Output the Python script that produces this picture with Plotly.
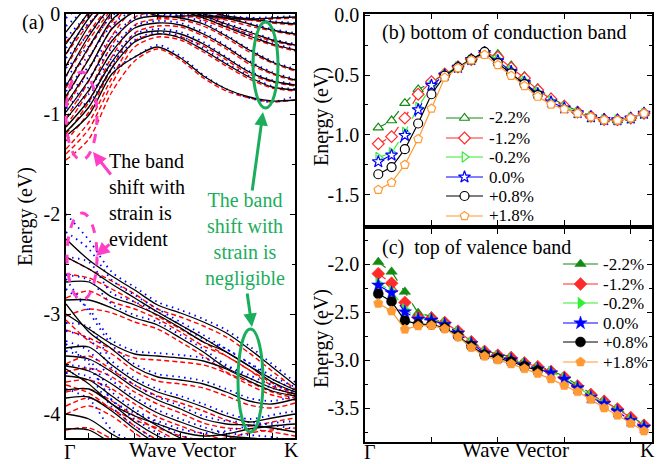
import plotly.graph_objects as go

# ---------------- data ----------------
# panel (a): band energies (eV) at 11 k-points from Gamma (0) to K (10)
KA = [0, 1, 2, 3, 4, 5, 6, 7, 8, 9, 10]

CB_BLACK = [
    [-1.22, -1.01, -0.60, -0.43, -0.33, -0.44, -0.62, -0.75, -0.83, -0.87, -0.86],
    [-1.18, -0.93, -0.54, -0.28, -0.20, -0.24, -0.36, -0.50, -0.63, -0.73, -0.76],
    [-1.13, -0.86, -0.48, -0.22, -0.17, -0.20, -0.30, -0.44, -0.58, -0.67, -0.71],
    [-1.05, -0.76, -0.38, -0.14, -0.09, -0.11, -0.20, -0.33, -0.48, -0.59, -0.66],
    [-0.98, -0.66, -0.27, -0.06, -0.02, -0.04, -0.10, -0.22, -0.36, -0.48, -0.56],
    [-0.90, -0.55, -0.15, 0.02, 0.05, 0.03, -0.04, -0.13, -0.22, -0.30, -0.36],
    [-0.82, -0.45, -0.06, 0.10, 0.10, 0.05, -0.02, -0.10, -0.18, -0.26, -0.31],
    [-0.72, -0.33, 0.02, 0.20, 0.20, 0.10, 0.00, -0.04, -0.10, -0.16, -0.20],
    [-0.62, -0.22, 0.08, 0.20, 0.20, 0.15, 0.05, -0.02, -0.05, -0.08, -0.10],
    [-0.52, -0.12, 0.15, 0.30, 0.30, 0.30, 0.30, 0.30, 0.30, 0.30, 0.30],
    [-0.40, -0.04, 0.20, 0.30, 0.30, 0.30, 0.30, 0.30, 0.30, 0.30, 0.30],
    [-0.30, 0.02, 0.30, 0.30, 0.30, 0.30, 0.30, 0.30, 0.30, 0.30, 0.30],
    [-0.18, 0.10, 0.30, 0.30, 0.30, 0.30, 0.30, 0.30, 0.30, 0.30, 0.30],
    [0.20, 0.20, 0.20, 0.10, -0.02, -0.02, -0.02, -0.04, -0.05, -0.04, -0.03],
]
CB_RED = [
    [-1.46, -1.25, -0.78, -0.47, -0.35, -0.46, -0.64, -0.77, -0.84, -0.88, -0.86],
    [-1.40, -1.15, -0.70, -0.33, -0.23, -0.26, -0.38, -0.52, -0.65, -0.74, -0.77],
    [-1.35, -1.08, -0.64, -0.27, -0.20, -0.23, -0.32, -0.46, -0.60, -0.68, -0.72],
    [-1.27, -0.98, -0.54, -0.19, -0.12, -0.13, -0.22, -0.35, -0.50, -0.60, -0.67],
    [-1.20, -0.88, -0.43, -0.11, -0.05, -0.06, -0.12, -0.24, -0.38, -0.49, -0.57],
    [-1.12, -0.77, -0.31, -0.03, 0.02, 0.01, -0.06, -0.15, -0.24, -0.31, -0.37],
    [-1.04, -0.67, -0.22, 0.05, 0.08, 0.04, -0.04, -0.12, -0.20, -0.27, -0.32],
    [-0.94, -0.55, -0.14, 0.15, 0.20, 0.10, -0.02, -0.06, -0.12, -0.17, -0.21],
    [-0.84, -0.44, -0.08, 0.15, 0.20, 0.15, 0.04, -0.03, -0.06, -0.09, -0.11],
    [-0.74, -0.34, 0.00, 0.30, 0.30, 0.30, 0.30, 0.30, 0.30, 0.30, 0.30],
    [-0.62, -0.26, 0.05, 0.30, 0.30, 0.30, 0.30, 0.30, 0.30, 0.30, 0.30],
    [-0.52, -0.18, 0.10, 0.30, 0.30, 0.30, 0.30, 0.30, 0.30, 0.30, 0.30],
    [-0.40, -0.10, 0.15, 0.30, 0.30, 0.30, 0.30, 0.30, 0.30, 0.30, 0.30],
    [-0.28, -0.02, 0.20, 0.30, 0.30, 0.30, 0.30, 0.30, 0.30, 0.30, 0.30],
    [0.20, 0.20, 0.20, 0.10, -0.03, -0.03, -0.03, -0.05, -0.06, -0.05, -0.04],
]
CB_BLUE = [
    [-0.94, -0.88, -0.56, -0.43, -0.31, -0.42, -0.61, -0.75, -0.84, -0.88, -0.82],
    [-0.90, -0.80, -0.50, -0.26, -0.18, -0.22, -0.34, -0.49, -0.62, -0.72, -0.75],
    [-0.85, -0.73, -0.44, -0.20, -0.15, -0.18, -0.28, -0.43, -0.57, -0.66, -0.70],
    [-0.77, -0.63, -0.34, -0.12, -0.07, -0.09, -0.18, -0.32, -0.47, -0.58, -0.65],
    [-0.70, -0.53, -0.23, -0.04, 0.00, -0.02, -0.08, -0.21, -0.35, -0.47, -0.55],
    [-0.62, -0.42, -0.11, 0.04, 0.07, 0.05, -0.02, -0.11, -0.21, -0.29, -0.35],
    [-0.54, -0.32, -0.02, 0.10, 0.10, 0.06, -0.01, -0.09, -0.17, -0.25, -0.30],
    [-0.44, -0.20, 0.06, 0.20, 0.20, 0.10, 0.00, -0.03, -0.09, -0.15, -0.19],
    [-0.34, -0.09, 0.12, 0.20, 0.20, 0.15, 0.05, -0.01, -0.04, -0.07, -0.09],
    [-0.24, 0.00, 0.20, 0.30, 0.30, 0.30, 0.30, 0.30, 0.30, 0.30, 0.30],
    [-0.12, 0.08, 0.30, 0.30, 0.30, 0.30, 0.30, 0.30, 0.30, 0.30, 0.30],
    [-0.04, 0.15, 0.30, 0.30, 0.30, 0.30, 0.30, 0.30, 0.30, 0.30, 0.30],
    [0.20, 0.20, 0.20, 0.10, -0.01, -0.01, -0.01, -0.03, -0.04, -0.03, -0.02],
]
VB_BLACK = [
    [-2.25, -2.46, -2.62, -2.76, -2.91, -2.99, -3.08, -3.19, -3.35, -3.53, -3.71],
    [-2.43, -2.55, -2.70, -2.84, -2.98, -3.11, -3.24, -3.38, -3.52, -3.65, -3.76],
    [-2.68, -2.68, -2.83, -2.91, -3.01, -3.14, -3.28, -3.38, -3.52, -3.68, -3.78],
    [-2.86, -2.86, -2.94, -3.04, -3.11, -3.24, -3.38, -3.54, -3.64, -3.74, -3.80],
    [-2.90, -3.18, -3.35, -3.53, -3.63, -3.66, -3.70, -3.78, -3.87, -3.90, -3.85],
    [-3.00, -3.15, -3.30, -3.40, -3.42, -3.44, -3.47, -3.55, -3.67, -3.77, -3.82],
    [-3.34, -3.33, -3.51, -3.67, -3.78, -3.85, -3.93, -4.02, -4.08, -4.04, -4.00],
    [-3.42, -3.45, -3.58, -3.74, -3.86, -3.95, -4.05, -4.10, -4.11, -4.14, -4.18],
    [-3.52, -3.57, -3.70, -3.86, -3.99, -4.08, -4.16, -4.22, -4.24, -4.26, -4.30],
    [-3.62, -3.66, -3.82, -3.98, -4.12, -4.24, -4.32, -4.40, -4.45, -4.45, -4.45],
    [-3.76, -3.75, -3.90, -4.08, -4.22, -4.32, -4.40, -4.45, -4.50, -4.50, -4.50],
    [-3.84, -3.83, -3.97, -4.15, -4.30, -4.40, -4.50, -4.50, -4.50, -4.50, -4.50],
    [-4.00, -4.05, -4.20, -4.32, -4.45, -4.50, -4.50, -4.50, -4.50, -4.50, -4.50],
    [-4.15, -4.16, -4.30, -4.45, -4.50, -4.50, -4.50, -4.50, -4.50, -4.50, -4.50],
    [-3.55, -3.70, -3.90, -4.02, -4.10, -4.18, -4.22, -4.20, -4.15, -4.12, -4.10],
]
VB_RED = [
    [-2.43, -2.55, -2.67, -2.80, -2.95, -3.03, -3.12, -3.23, -3.39, -3.57, -3.75],
    [-2.60, -2.64, -2.75, -2.88, -3.02, -3.15, -3.28, -3.42, -3.56, -3.69, -3.80],
    [-2.84, -2.77, -2.88, -2.95, -3.05, -3.18, -3.32, -3.42, -3.56, -3.72, -3.82],
    [-3.02, -2.95, -2.99, -3.08, -3.15, -3.28, -3.42, -3.58, -3.68, -3.78, -3.84],
    [-3.06, -3.27, -3.40, -3.57, -3.67, -3.70, -3.74, -3.82, -3.91, -3.94, -3.89],
    [-3.16, -3.24, -3.35, -3.44, -3.46, -3.48, -3.51, -3.59, -3.71, -3.81, -3.86],
    [-3.50, -3.42, -3.56, -3.71, -3.82, -3.89, -3.97, -4.06, -4.12, -4.08, -4.04],
    [-3.58, -3.54, -3.63, -3.78, -3.90, -3.99, -4.09, -4.14, -4.15, -4.18, -4.22],
    [-3.68, -3.66, -3.75, -3.90, -4.03, -4.12, -4.20, -4.26, -4.28, -4.30, -4.34],
    [-3.78, -3.75, -3.87, -4.02, -4.16, -4.28, -4.36, -4.44, -4.50, -4.50, -4.50],
    [-3.92, -3.84, -3.95, -4.12, -4.26, -4.36, -4.44, -4.50, -4.50, -4.50, -4.50],
    [-4.00, -3.92, -4.02, -4.19, -4.34, -4.44, -4.50, -4.50, -4.50, -4.50, -4.50],
    [-4.16, -4.14, -4.25, -4.36, -4.49, -4.50, -4.50, -4.50, -4.50, -4.50, -4.50],
    [-3.71, -3.79, -3.95, -4.06, -4.14, -4.22, -4.26, -4.24, -4.19, -4.16, -4.14],
]
VB_BLUE = [
    [-2.00, -2.26, -2.58, -2.73, -2.88, -2.96, -3.05, -3.16, -3.32, -3.50, -3.68],
    [-2.18, -2.35, -2.66, -2.81, -2.95, -3.08, -3.21, -3.35, -3.49, -3.62, -3.73],
    [-2.43, -2.48, -2.79, -2.88, -2.98, -3.11, -3.25, -3.35, -3.49, -3.65, -3.75],
    [-2.61, -2.66, -2.90, -3.01, -3.08, -3.21, -3.35, -3.51, -3.61, -3.71, -3.77],
    [-2.65, -2.98, -3.31, -3.50, -3.60, -3.63, -3.67, -3.75, -3.84, -3.87, -3.82],
    [-2.75, -2.95, -3.26, -3.37, -3.39, -3.41, -3.44, -3.52, -3.64, -3.74, -3.79],
    [-3.09, -3.13, -3.47, -3.64, -3.75, -3.82, -3.90, -3.99, -4.05, -4.01, -3.97],
    [-3.17, -3.25, -3.54, -3.71, -3.83, -3.92, -4.02, -4.07, -4.08, -4.11, -4.15],
    [-3.27, -3.37, -3.66, -3.83, -3.96, -4.05, -4.13, -4.19, -4.21, -4.23, -4.27],
    [-3.37, -3.46, -3.78, -3.95, -4.09, -4.21, -4.29, -4.37, -4.42, -4.45, -4.45],
    [-3.51, -3.55, -3.86, -4.05, -4.19, -4.29, -4.37, -4.45, -4.50, -4.50, -4.50],
    [-3.59, -3.63, -3.93, -4.12, -4.27, -4.37, -4.47, -4.50, -4.50, -4.50, -4.50],
    [-3.75, -3.85, -4.16, -4.29, -4.42, -4.50, -4.50, -4.50, -4.50, -4.50, -4.50],
    [-3.30, -3.50, -3.86, -3.99, -4.07, -4.15, -4.19, -4.17, -4.12, -4.09, -4.07],
]

# panels (b), (c): 21 k-points from Gamma to K
KBC = list(range(1, 22))
STRAIN_LABELS = ["-2.2%", "-1.2%", "-0.2%", "0.0%", "+0.8%", "+1.8%"]

CBM_M22 = [-0.94, -0.88, -0.735, -0.62, -0.56, -0.49, -0.43, -0.37, -0.31, -0.325, -0.42, -0.51, -0.61, -0.69, -0.75, -0.80, -0.84, -0.87, -0.88, -0.86, -0.82]
CBM_M12 = [-1.075, -1.015, -0.86, -0.66, -0.555, -0.49, -0.43, -0.37, -0.31, -0.35, -0.44, -0.525, -0.625, -0.70, -0.76, -0.81, -0.845, -0.872, -0.875, -0.86, -0.82]
CBM_M02 = [-1.19, -1.15, -0.98, -0.77, -0.59, -0.50, -0.43, -0.37, -0.31, -0.37, -0.46, -0.55, -0.64, -0.715, -0.77, -0.815, -0.85, -0.872, -0.875, -0.86, -0.82]
CBM_P00 = [-1.225, -1.17, -1.005, -0.79, -0.585, -0.50, -0.435, -0.37, -0.31, -0.38, -0.47, -0.56, -0.655, -0.725, -0.775, -0.815, -0.85, -0.872, -0.875, -0.86, -0.82]
CBM_P08 = [-1.33, -1.27, -1.12, -0.905, -0.66, -0.505, -0.435, -0.37, -0.305, -0.40, -0.485, -0.575, -0.667]
CBM_P18 = [-1.46, -1.40, -1.25, -1.035, -0.78, -0.52, -0.44, -0.375, -0.33, -0.415, -0.505, -0.59, -0.68, -0.745, -0.785, -0.82, -0.85, -0.875, -0.878, -0.86, -0.82]

VBM_M22 = [-1.98, -2.08, -2.29, -2.51, -2.545, -2.60, -2.69, -2.80, -2.90, -2.94, -2.96, -3.02, -3.06, -3.11, -3.17, -3.26, -3.35, -3.42, -3.50, -3.59, -3.67]
VBM_M12 = [-2.10, -2.20, -2.40, -2.555, -2.565, -2.61, -2.70, -2.81, -2.91, -2.95, -2.975, -3.03, -3.07, -3.12, -3.18, -3.27, -3.36, -3.43, -3.51, -3.60, -3.68]
VBM_M02 = [-2.20, -2.28, -2.47, -2.565, -2.575, -2.62, -2.71, -2.82, -2.92, -2.96, -2.99, -3.04, -3.085, -3.125, -3.19, -3.28, -3.375, -3.445, -3.525, -3.62, -3.69]
VBM_P00 = [-2.22, -2.30, -2.50, -2.575, -2.585, -2.63, -2.72, -2.83, -2.93, -2.97, -3.00, -3.05, -3.095, -3.135, -3.20, -3.29, -3.39, -3.455, -3.535, -3.63, -3.70]
VBM_P08 = [-2.31, -2.39, -2.59, -2.625, -2.63, -2.665, -2.75, -2.855, -2.945, -2.98, -3.017, -3.065, -3.11]
VBM_P18 = [-2.41, -2.49, -2.68, -2.645, -2.64, -2.675, -2.76, -2.87, -2.96, -3.00, -3.04, -3.09, -3.14, -3.196, -3.265, -3.33, -3.41, -3.50, -3.575, -3.66, -3.74]

# ---------------- styling ----------------
W, H = 665, 464
FONT = "Liberation Serif, Times New Roman, Times, serif"
PINK = "#ff3fc6"
GREEN = "#1aae5c"
COLS = ["#138a13", "#ff2a2a", "#33ee33", "#0000ff", "#000000", "#ff9933"]
DASHES = ["dash", "dash", "dash", "longdash", "solid", "solid"]
SYMS = ["triangle-up", "diamond", "triangle-right", "star", "circle", "pentagon"]


def px(x):
    return x / W


def py(y):
    return 1 - y / H


fig = go.Figure()


def add_bands(bands, color, dash, width):
    xs, ys = [], []
    for b in bands:
        xs += KA + [None]
        ys += b + [None]
    fig.add_trace(go.Scatter(x=xs, y=ys, mode="lines", xaxis="x", yaxis="y",
                             line=dict(color=color, dash=dash, width=width, shape="spline", smoothing=0.8),
                             showlegend=False, hoverinfo="skip"))


add_bands(CB_RED, "#ff0000", "5px,3px", 1.4)
add_bands(VB_RED, "#ff0000", "5px,3px", 1.4)
add_bands(CB_BLUE, "#0000ff", "1.5px,4.5px", 1.8)
add_bands(VB_BLUE, "#0000ff", "1.5px,4.5px", 1.8)
add_bands(CB_BLACK, "#000000", "solid", 1.3)
add_bands(VB_BLACK, "#000000", "solid", 1.3)

CBM = [CBM_M22, CBM_M12, CBM_M02, CBM_P00, CBM_P08, CBM_P18]
VBM = [VBM_M22, VBM_M12, VBM_M02, VBM_P00, VBM_P08, VBM_P18]
for i in range(6):
    fig.add_trace(go.Scatter(
        x=KBC[:len(CBM[i])], y=CBM[i], mode="lines+markers", xaxis="x2", yaxis="y2",
        showlegend=False, line=dict(color=COLS[i], dash=DASHES[i], width=1.2),
        marker=dict(symbol=SYMS[i], size=9, color="white", line=dict(color=COLS[i], width=1.2))))
for i in range(6):
    fig.add_trace(go.Scatter(
        x=KBC[:len(VBM[i])], y=VBM[i], mode="lines+markers", xaxis="x3", yaxis="y3",
        showlegend=False, line=dict(color=COLS[i], dash=DASHES[i], width=1.2),
        marker=dict(symbol=SYMS[i], size=10, color=COLS[i], line=dict(color=COLS[i], width=0.5))))

# legend keys drawn on a pixel overlay (layout helper axes x4/y4)
LEG_B_ROWS = [118, 138, 157, 177, 196, 216]
LEG_C_ROWS = [264, 284, 303, 323, 342, 362]
for i in range(6):
    for rows, x0, x1, filled in ((LEG_B_ROWS, 446, 483, False), (LEG_C_ROWS, 563, 598, True)):
        yk = rows[i]
        xm = (x0 + x1) / 2
        fig.add_trace(go.Scatter(x=[x0, x1], y=[yk, yk], mode="lines", xaxis="x4", yaxis="y4",
                                 showlegend=False, hoverinfo="skip",
                                 line=dict(color=COLS[i], dash="solid", width=1.2)))
        fig.add_trace(go.Scatter(x=[xm], y=[yk], mode="markers", xaxis="x4", yaxis="y4",
                                 showlegend=False, hoverinfo="skip",
                                 marker=dict(symbol=SYMS[i], size=9 if not filled else 10,
                                             color=COLS[i] if filled else "white",
                                             line=dict(color=COLS[i], width=1.2 if not filled else 0.5))))

axis_common = dict(showline=True, linecolor="black", linewidth=1.5, mirror="allticks",
                   ticks="inside", ticklen=5, tickcolor="black", showgrid=False, zeroline=False,
                   automargin=False, tickfont=dict(family=FONT, size=20, color="black"))

fig.update_layout(
    template="none",
    width=W, height=H, margin=dict(l=0, r=0, t=0, b=0, pad=0),
    paper_bgcolor="white", plot_bgcolor="rgba(0,0,0,0)",
    font=dict(family=FONT, color="black"),
    showlegend=False,
    xaxis=dict(domain=[px(66), px(295)], range=[0, 10], anchor="y",
               tickvals=[1, 2, 3, 4, 5, 6, 7, 8, 9], showticklabels=False, **axis_common),
    yaxis=dict(domain=[py(438), py(14)], range=[-4.24, 0], anchor="x",
               tickvals=[0, -1, -2, -3, -4], ticktext=["0", "-1", "-2", "-3", "-4"],
               minor=dict(tickvals=[-0.5, -1.5, -2.5, -3.5], ticks="inside", ticklen=3, tickcolor="black"),
               **axis_common),
    xaxis2=dict(domain=[px(365), px(652)], range=[0, 21.6], anchor="y2",
                tickvals=[5, 10, 15, 20], showticklabels=False, **axis_common),
    yaxis2=dict(domain=[py(225), py(14)], range=[-1.755, 0.012], anchor="x2",
                tickvals=[0, -0.5, -1.0, -1.5], ticktext=["0.0", "-0.5", "-1.0", "-1.5"],
                minor=dict(tickvals=[-0.25, -0.75, -1.25], ticks="inside", ticklen=3, tickcolor="black"),
                **axis_common),
    xaxis3=dict(domain=[px(365), px(652)], range=[0, 21.6], anchor="y3",
                tickvals=[5, 10, 15, 20], showticklabels=False, **axis_common),
    yaxis3=dict(domain=[py(442), py(229)], range=[-3.854, -1.635], anchor="x3",
                tickvals=[-2.0, -2.5, -3.0, -3.5], ticktext=["-2.0", "-2.5", "-3.0", "-3.5"],
                minor=dict(tickvals=[-1.75, -2.25, -2.75, -3.25, -3.75], ticks="inside", ticklen=3, tickcolor="black"),
                **axis_common),
    xaxis4=dict(domain=[0, 1], range=[0, W], anchor="y4", visible=False, fixedrange=True, automargin=False),
    yaxis4=dict(domain=[0, 1], range=[H, 0], anchor="x4", visible=False, fixedrange=True, automargin=False),
)

ann = []


def txt(x, y, s, size=20, color="black", xanchor="center", yanchor="middle", angle=0, align="center"):
    ann.append(dict(x=px(x), y=py(y), xref="paper", yref="paper", text=s, showarrow=False,
                    xanchor=xanchor, yanchor=yanchor, textangle=angle, align=align,
                    font=dict(family=FONT, size=size, color=color)))


txt(33, 22, "(a)", 20)
txt(25, 217, "Energy (eV)", 20, angle=-90)
txt(321, 117, "Energy (eV)", 20, angle=-90)
txt(321, 339, "Energy (eV)", 20, angle=-90)
txt(70, 452, "Γ", 20)
txt(182, 450, "Wave Vector", 21)
txt(291, 450, "K", 20)
txt(370, 452, "Γ", 20)
txt(515, 450, "Wave Vector", 21)
txt(647, 450, "K", 20)
txt(380, 33, "(b) bottom of conduction band", 20, xanchor="left")
txt(380, 247, "(c)&nbsp;&nbsp;top of valence band", 20, xanchor="left")
txt(107, 200, "The band<br>shift with<br>strain is<br>evident", 20, xanchor="left", align="left")
txt(245, 239, "The band<br>shift with<br>strain is<br>negligible", 20, color=GREEN)
for i in range(6):
    txt(487, LEG_B_ROWS[i], STRAIN_LABELS[i], 17, xanchor="left")
    txt(601, LEG_C_ROWS[i], STRAIN_LABELS[i], 17, xanchor="left")


def arrow(tipx, tipy, tailx, taily, color):
    ann.append(dict(x=px(tipx), y=py(tipy), xref="paper", yref="paper", text="", showarrow=True,
                    ax=tailx - tipx, ay=taily - tipy, arrowcolor=color, arrowwidth=3,
                    arrowhead=2, arrowsize=0.9))


arrow(93, 152, 112, 176, PINK)
arrow(96, 256, 111, 243, PINK)
arrow(263, 112, 252, 192, GREEN)
arrow(252, 327, 247, 292, GREEN)
fig.update_layout(annotations=ann)

shapes = [
    dict(type="circle", xref="paper", yref="paper", x0=px(66), x1=px(97), y0=py(160), y1=py(72),
         line=dict(color=PINK, width=3, dash="dash")),
    dict(type="circle", xref="paper", yref="paper", x0=px(67), x1=px(97), y0=py(300), y1=py(213),
         line=dict(color=PINK, width=3, dash="dash")),
    dict(type="circle", xref="paper", yref="paper", x0=px(253), x1=px(278), y0=py(108), y1=py(22),
         line=dict(color=GREEN, width=3)),
    dict(type="circle", xref="paper", yref="paper", x0=px(238), x1=px(263), y0=py(432), y1=py(329),
         line=dict(color=GREEN, width=3)),
]
fig.update_layout(shapes=shapes)

fig.write_html("out.html", config={"displayModeBar": False},
               post_script="document.body.style.margin='0';document.body.style.overflow='hidden';")
